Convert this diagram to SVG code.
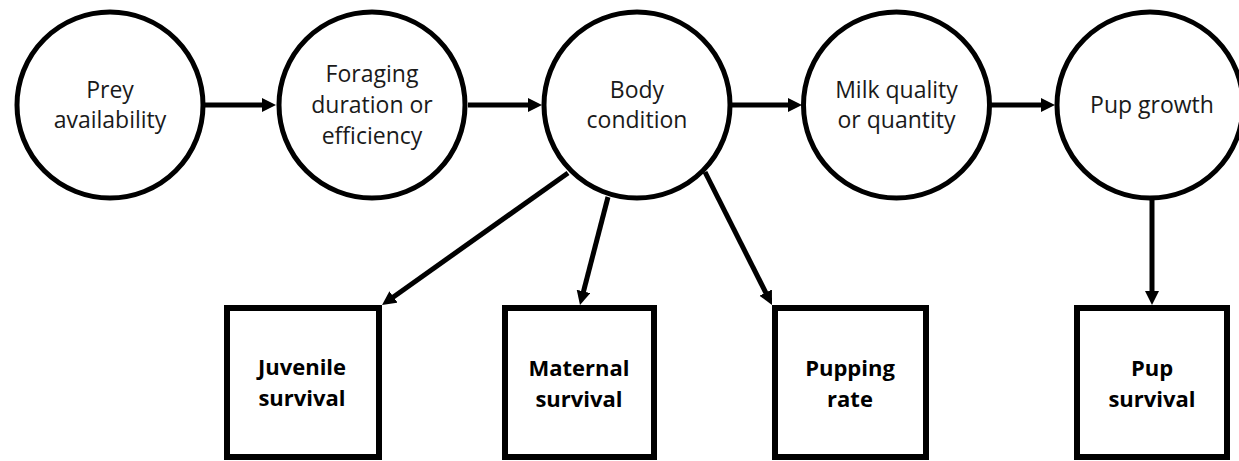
<svg xmlns="http://www.w3.org/2000/svg" width="1239" height="461" viewBox="0 0 1239 461">
  <style>
    .node circle { fill: #fff; stroke: #000; stroke-width: 5; }
    .node rect { fill: #fff; stroke: #000; stroke-width: 6; }
    .label { font-family: "Open Sans", "Liberation Sans", sans-serif; font-size: 23px; fill: #1a1a1a; text-anchor: middle; }
    .outcome { font-family: "Open Sans", "Liberation Sans", sans-serif; font-size: 22px; font-weight: bold; fill: #000; text-anchor: middle; }
    .edge { stroke: #000; stroke-width: 5; fill: none; marker-end: url(#head); }
  </style>
  <defs>
    <marker id="head" markerUnits="userSpaceOnUse" markerWidth="16" markerHeight="16" refX="4" refY="7" orient="auto">
      <path d="M0,0 L14,7 L0,14 Z" fill="#000"/>
    </marker>
  </defs>
  <rect width="1239" height="461" fill="#fff"/>

  <g id="connectors">
    <line class="edge" x1="205" y1="105" x2="266" y2="105"/>
    <line class="edge" x1="468" y1="105" x2="532" y2="105"/>
    <line class="edge" x1="732" y1="105" x2="792" y2="105"/>
    <line class="edge" x1="991" y1="105" x2="1045" y2="105"/>
    <line class="edge" x1="568" y1="173" x2="390.2" y2="299.2"/>
    <line class="edge" x1="608" y1="197" x2="582.5" y2="295.3"/>
    <line class="edge" x1="705" y1="172" x2="767.5" y2="296.1"/>
    <line class="edge" x1="1152" y1="199" x2="1152" y2="295"/>
  </g>

  <g id="prey" class="node">
    <circle cx="110" cy="105" r="93"/>
    <text class="label" x="110" y="98">Prey</text>
    <text class="label" x="110" y="128">availability</text>
  </g>
  <g id="foraging" class="node">
    <circle cx="372" cy="105" r="93"/>
    <text class="label" x="372" y="82">Foraging</text>
    <text class="label" x="372" y="113">duration or</text>
    <text class="label" x="372" y="144">efficiency</text>
  </g>
  <g id="body" class="node">
    <circle cx="637" cy="105" r="93"/>
    <text class="label" x="637" y="98">Body</text>
    <text class="label" x="637" y="128">condition</text>
  </g>
  <g id="milk" class="node">
    <circle cx="896.5" cy="105" r="93"/>
    <text class="label" x="896.5" y="98">Milk quality</text>
    <text class="label" x="896.5" y="128">or quantity</text>
  </g>
  <g id="growth" class="node">
    <circle cx="1150" cy="105" r="93"/>
    <text class="label" x="1152" y="113">Pup growth</text>
  </g>

  <g id="juvenile" class="node">
    <rect x="227" y="308" width="152" height="149"/>
    <text class="outcome" x="302" y="375">Juvenile</text>
    <text class="outcome" x="302" y="406">survival</text>
  </g>
  <g id="maternal" class="node">
    <rect x="505" y="308" width="149" height="149"/>
    <text class="outcome" x="579" y="376">Maternal</text>
    <text class="outcome" x="579" y="407">survival</text>
  </g>
  <g id="pupping" class="node">
    <rect x="775" y="308" width="151" height="149"/>
    <text class="outcome" x="850" y="376">Pupping</text>
    <text class="outcome" x="850" y="407">rate</text>
  </g>
  <g id="pupsurvival" class="node">
    <rect x="1077" y="308" width="150" height="149"/>
    <text class="outcome" x="1152" y="376">Pup</text>
    <text class="outcome" x="1152" y="407">survival</text>
  </g>
</svg>
